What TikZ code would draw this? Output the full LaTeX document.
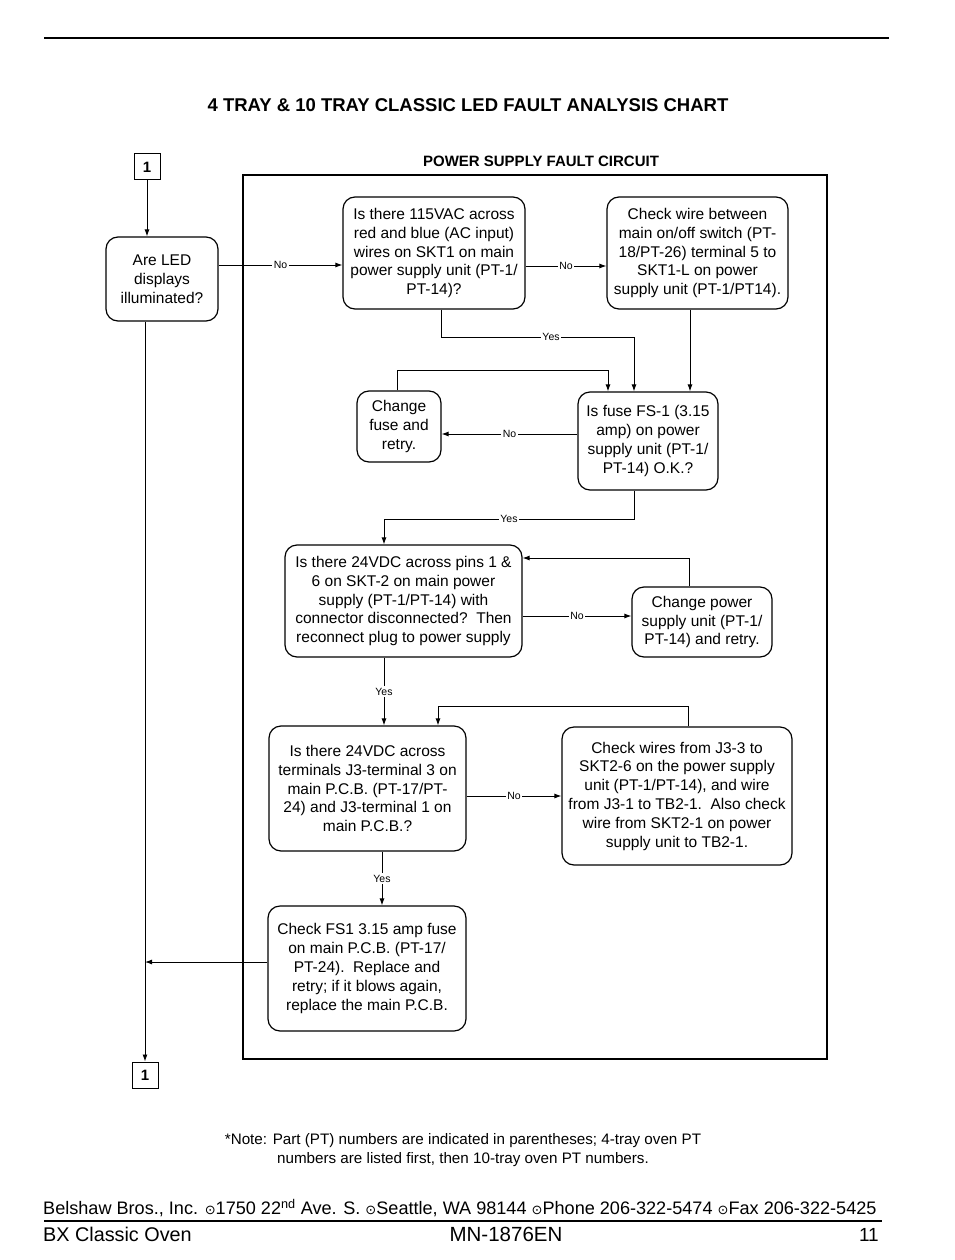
\documentclass[tikz,border=0pt]{standalone}
\usepackage{fontspec}
\setmainfont{Liberation Sans}
\newfontfamily\symfont{DejaVu Sans}
\usepackage{tikz}
\usetikzlibrary{arrows.meta,positioning}

\newcommand{\boxfont}{\fontsize{15.5}{18.8}\selectfont}
\newcommand{\lblfont}{\fontsize{10.5}{12}\selectfont}
\newcommand{\dotsym}{{\symfont\fontsize{13}{13}\selectfont ⊙}}

\begin{document}
\begin{tikzpicture}[x=1pt, y=-1pt, >={Latex[length=7pt,width=5pt]},
    box/.style={draw, rounded corners=12pt, line width=1.2pt, align=center, font=\boxfont, inner sep=0pt},
    lbl/.style={fill=white, font=\lblfont, inner sep=1.5pt},
    conn/.style={line width=0.9pt},
    refbox/.style={draw, line width=1pt, minimum size=26pt, inner sep=0pt, font=\fontsize{15}{15}\selectfont\bfseries}]
    \useasboundingbox (0,0) rectangle (954,1260);

    % page head
    \draw[line width=1.5pt] (44,38) -- (889,38);
    \node[font=\fontsize{18.5}{20}\selectfont\bfseries] (title) at (468,105) {4 TRAY \& 10 TRAY CLASSIC LED FAULT ANALYSIS CHART};
    \node[font=\fontsize{15}{16}\selectfont\bfseries] (sub) at (541,161) {POWER SUPPLY FAULT CIRCUIT};
    \draw[line width=1.8pt] (243,175) rectangle (827,1059);

    % boxes
    \node[refbox] (top1) at (147,167) {1};
    \node[refbox] (bot1) at (145,1075) {1};
    \node[box, minimum width=112pt, minimum height=84pt] (led) at (162,279) {Are LED\\displays\\illuminated?};
    \node[box, minimum width=182pt, minimum height=112pt] (acin) at (434,253) {Is there 115VAC across\\red and blue (AC input)\\wires on SKT1 on main\\power supply unit (PT-1/\\PT-14)?};
    \node[box, minimum width=181pt, minimum height=112pt] (wire) at (697.5,253) {Check wire between\\main on/off switch (PT-\\18/PT-26) terminal 5 to\\SKT1-L on power\\supply unit (PT-1/PT14).};
    \node[box, minimum width=140pt, minimum height=98pt] (fuse) at (648,441) {Is fuse FS-1 (3.15\\amp) on power\\supply unit (PT-1/\\PT-14) O.K.?};
    \node[box, minimum width=84pt, minimum height=71pt] (chfuse) at (399,426.5) {Change\\fuse and\\retry.};
    \node[box, minimum width=237pt, minimum height=112pt] (skt) at (403.5,601) {Is there 24VDC across pins 1 \&\\6 on SKT-2 on main power\\supply (PT-1/PT-14) with\\connector disconnected?\ \ Then\\reconnect plug to power supply};
    \node[box, minimum width=140pt, minimum height=70pt] (chpsu) at (702,622) {Change power\\supply unit (PT-1/\\PT-14) and retry.};
    \node[box, minimum width=197pt, minimum height=125pt] (jthree) at (367.5,788.5) {Is there 24VDC across\\terminals J3-terminal 3 on\\main P.C.B. (PT-17/PT-\\24) and J3-terminal 1 on\\main P.C.B.?};
    \node[box, minimum width=230pt, minimum height=138pt] (wires) at (677,796) {Check wires from J3-3 to\\SKT2-6 on the power supply\\unit (PT-1/PT-14), and wire\\from J3-1 to TB2-1.\ \ Also check\\wire from SKT2-1 on power\\supply unit to TB2-1.};
    \node[box, minimum width=198pt, minimum height=125pt] (pcb) at (367,968.5) {Check FS1 3.15 amp fuse\\on main P.C.B. (PT-17/\\PT-24).\ \ Replace and\\retry; if it blows again,\\replace the main P.C.B.};

    % connectors
    \draw[conn, ->] (top1.south) -- (top1 |- led.north);
    \draw[conn, ->] (led.south -| bot1) -- (bot1.north);
    \draw[conn, ->] (led.east |- 0,265) -- node[lbl]{No} (acin.west |- 0,265);
    \draw[conn, ->] (acin.east |- 0,266) -- node[lbl]{No} (wire.west |- 0,266);
    \draw[conn, ->] (acin.south -| 441,0) -- (441,337) -- node[lbl, pos=0.57]{Yes} (634,337) -- (fuse.north -| 634,0);
    \draw[conn, ->] (chfuse.north -| 397,0) -- (397,370) -- (608,370) -- (fuse.north -| 608,0);
    \draw[conn, ->] (wire.south -| 690,0) -- (fuse.north -| 690,0);
    \draw[conn, ->] (fuse.west |- 0,434) -- node[lbl]{No} (chfuse.east |- 0,434);
    \draw[conn, ->] (fuse.south -| 634,0) -- (634,519) -- node[lbl]{Yes} (384,519) -- (skt.north -| 384,0);
    \draw[conn, ->] (skt.east |- 0,616) -- node[lbl]{No} (chpsu.west |- 0,616);
    \draw[conn, ->] (chpsu.north -| 689,0) -- (689,558) -- (skt.east |- 0,558);
    \draw[conn, ->] (skt.south -| 384,0) -- node[lbl]{Yes} (jthree.north -| 384,0);
    \draw[conn, ->] (wires.north -| 688,0) -- (688,706) -- (438,706) -- (jthree.north -| 438,0);
    \draw[conn, ->] (jthree.east |- 0,796) -- node[lbl]{No} (wires.west |- 0,796);
    \draw[conn, ->] (jthree.south -| 382,0) -- node[lbl]{Yes} (pcb.north -| 382,0);
    \draw[conn, ->] (pcb.west |- 0,962) -- (bot1 |- 0,962);

    % note and footer
    \node[align=center, font=\fontsize{15.2}{19}\selectfont] (note) at (463,1150) {*Note: Part (PT) numbers are indicated in parentheses; 4-tray oven PT\\numbers are listed first, then 10-tray oven PT numbers.};
    \node[anchor=west, inner sep=0pt, font=\fontsize{18.1}{20}\selectfont] (addr) at (43,1208) {Belshaw Bros., Inc. \dotsym1750 22\textsuperscript{nd} Ave. S. \dotsym Seattle, WA 98144 \dotsym Phone 206-322-5474 \dotsym Fax 206-322-5425};
    \draw[line width=1.3pt] (44,1221) -- (882,1221);
    \node[anchor=west, inner sep=0pt, font=\fontsize{19.8}{20}\selectfont] (oven) at (43,1234) {BX Classic Oven};
    \node[inner sep=0pt, font=\fontsize{20.5}{21}\selectfont] (mn) at (506,1234) {MN-1876EN};
    \node[anchor=east, inner sep=0pt, font=\fontsize{19}{20}\selectfont] (page) at (879,1235) {11};
\end{tikzpicture}
\end{document}
